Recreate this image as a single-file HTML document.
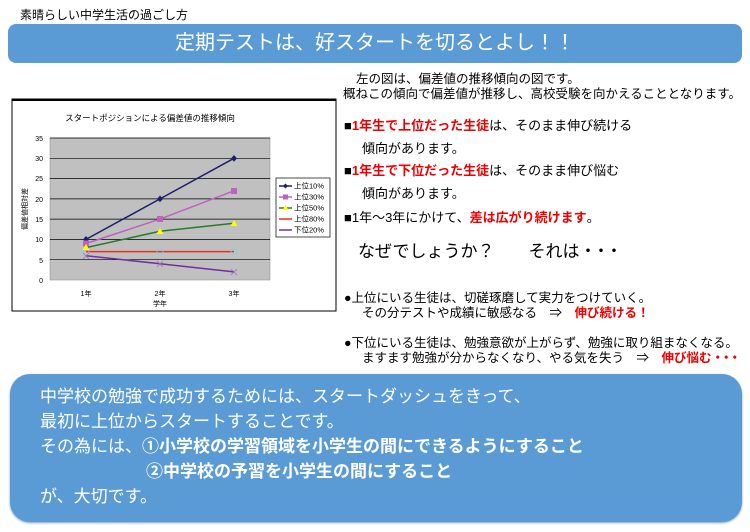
<!DOCTYPE html>
<html><head><meta charset="utf-8"><style>
body{margin:0;width:750px;height:532px;background:#fff;font-family:"Liberation Sans","Noto Sans CJK JP",sans-serif;position:relative;overflow:hidden;color:#000}
.a{position:absolute;white-space:nowrap}
.r{color:#e00;font-weight:bold}
.d{letter-spacing:-4px}
</style></head><body>
<div class="a" style="left:20px;top:6px;font-size:12px">素晴らしい中学生活の過ごし方</div>
<div class="a" style="left:8px;top:24px;width:734px;height:39px;background:#5b9bd5;border-radius:8px;color:#fff;font-size:20px;text-align:center;line-height:39px">定期テストは、好スタートを切るとよし！！</div>
<div class="a" style="left:356px;top:68px;font-size:12.5px">左の図は、偏差値の推移傾向の図です。</div>
<div class="a" style="left:343px;top:83px;font-size:12.5px">概ねこの傾向で偏差値が推移し、高校受験を向かえることとなります。</div>
<div class="a" style="left:344px;top:115px;font-size:13px">■<span class="r">1年生で上位だった生徒</span>は、そのまま伸び続ける</div>
<div class="a" style="left:362px;top:138px;font-size:13px">傾向があります。</div>
<div class="a" style="left:344px;top:160px;font-size:13px">■<span class="r">1年生で下位だった生徒</span>は、そのまま伸び悩む</div>
<div class="a" style="left:362px;top:183px;font-size:13px">傾向があります。</div>
<div class="a" style="left:344px;top:207px;font-size:13px">■1年～3年にかけて、<span class="r">差は広がり続けます</span>。</div>
<div class="a" style="left:358px;top:237px;font-size:17px">なぜでしょうか？　　それは<span class="d">・・・</span></div>
<div class="a" style="left:344px;top:287px;font-size:12.5px">●上位にいる生徒は、切磋琢磨して実力をつけていく。</div>
<div class="a" style="left:362px;top:302px;font-size:12.5px">その分テストや成績に敏感なる　⇒　<span class="r">伸び続ける！</span></div>
<div class="a" style="left:344px;top:332px;font-size:12.5px">●下位にいる生徒は、勉強意欲が上がらず、勉強に取り組まなくなる。</div>
<div class="a" style="left:362px;top:347px;font-size:12.5px">ますます勉強が分からなくなり、やる気を失う　⇒　<span class="r">伸び悩む<span class="d">・・・</span></span></div>
<svg class="a" style="left:0;top:0" width="340" height="320" font-family="Liberation Sans,Noto Sans CJK JP,sans-serif">
<rect x="12" y="99" width="324" height="212" fill="#fff" stroke="#000" stroke-width="1"/>
<line x1="12" y1="100" x2="336" y2="100" stroke="#000" stroke-width="2"/>
<text x="150" y="121" font-size="8.5" text-anchor="middle">スタートポジションによる偏差値の推移傾向</text>
<rect x="50" y="138" width="220" height="142" fill="#c0c0c0" stroke="#888" stroke-width="0.5"/>
<g stroke="#000" stroke-width="0.7">
<line x1="50" y1="158.3" x2="270" y2="158.3"/><line x1="50" y1="178.6" x2="270" y2="178.6"/><line x1="50" y1="198.9" x2="270" y2="198.9"/><line x1="50" y1="219.1" x2="270" y2="219.1"/><line x1="50" y1="239.4" x2="270" y2="239.4"/><line x1="50" y1="259.7" x2="270" y2="259.7"/><line x1="50" y1="138" x2="270" y2="138"/>
</g>
<g font-size="7" text-anchor="end"><text x="43" y="141">35</text><text x="43" y="161">30</text><text x="43" y="181">25</text><text x="43" y="202">20</text><text x="43" y="222">15</text><text x="43" y="242">10</text><text x="43" y="263">5</text><text x="43" y="283">0</text></g>
<g font-size="7" text-anchor="middle"><text x="86" y="296">1年</text><text x="160" y="296">2年</text><text x="234" y="296">3年</text><text x="160" y="306">学年</text></g>
<text transform="translate(27,209) rotate(-90)" font-size="7" text-anchor="middle">偏差値相対差</text>
<polyline points="86,239.4 160,198.9 234,158.3" fill="none" stroke="#1f1f6b" stroke-width="1.5"/>
<polyline points="86,243.5 160,219.1 234,190.8" fill="none" stroke="#c060c0" stroke-width="1.5"/>
<polyline points="86,247.6 160,231.3 234,223.2" fill="none" stroke="#2a7a2a" stroke-width="1.5"/>
<polyline points="86,251.6 160,251.6 234,251.6" fill="none" stroke="#e83020" stroke-width="1.5"/>
<polyline points="86,255.7 160,263.8 234,271.9" fill="none" stroke="#7030a0" stroke-width="1.5"/>
<g fill="none" stroke="#7fd0f0" stroke-width="0.8"><circle cx="86" cy="251.6" r="3"/><circle cx="160" cy="251.6" r="3"/><circle cx="234" cy="251.6" r="3"/></g>
<g stroke="#a070c0" stroke-width="0.8"><path d="M83 253l6 6M89 253l-6 6M157 261l6 6M163 261l-6 6M231 269l6 6M237 269l-6 6"/></g>
<g fill="#1f1f6b"><path d="M86 236l3 3.4-3 3.4-3-3.4z"/><path d="M160 195.5l3 3.4-3 3.4-3-3.4z"/><path d="M234 155l3 3.4-3 3.4-3-3.4z"/></g>
<g fill="#c060c0"><rect x="83" y="240.5" width="6" height="6"/><rect x="157" y="216" width="6" height="6"/><rect x="231" y="188" width="6" height="6"/></g>
<g fill="#ffff00"><path d="M86 244l3.5 6h-7z"/><path d="M160 228l3.5 6h-7z"/><path d="M234 220l3.5 6h-7z"/></g>
<rect x="276" y="178" width="54" height="59" fill="#fff" stroke="#000" stroke-width="0.7"/>
<g font-size="7.5">
<line x1="279" y1="186" x2="292" y2="186" stroke="#1f1f6b" stroke-width="1.5"/><path d="M285.5 183.5l2.5 2.5-2.5 2.5-2.5-2.5z" fill="#1f1f6b"/><text x="294" y="188.5">上位10%</text>
<line x1="279" y1="197" x2="292" y2="197" stroke="#c060c0" stroke-width="1.5"/><rect x="283" y="194.5" width="5" height="5" fill="#c060c0"/><text x="294" y="199.5">上位30%</text>
<line x1="279" y1="208" x2="292" y2="208" stroke="#2a7a2a" stroke-width="1.5"/><path d="M285.5 205l3 5h-6z" fill="#ff0"/><text x="294" y="210.5">上位50%</text>
<line x1="279" y1="219" x2="292" y2="219" stroke="#e83020" stroke-width="1.5"/><text x="294" y="221.5">上位80%</text>
<line x1="279" y1="230" x2="292" y2="230" stroke="#7030a0" stroke-width="1.5"/><text x="294" y="232.5">下位20%</text>
</g>
</svg>
<div class="a" style="left:10px;top:374px;width:732px;height:148px;background:#5b9bd5;border-radius:20px;box-shadow:0 1px 2px #7a9cc0"></div>
<div class="a" style="left:40px;top:384px;font-size:17px;color:#fff;line-height:25px">中学校の勉強で成功するためには、スタートダッシュをきって、<br>最初に上位からスタートすることです。<br>その為には、<b>①小学校の学習領域を小学生の間にできるようにすること</b><br><span style="display:inline-block;width:106px"></span><b>②中学校の予習を小学生の間にすること</b><br>が、大切です。</div>
</body></html>
